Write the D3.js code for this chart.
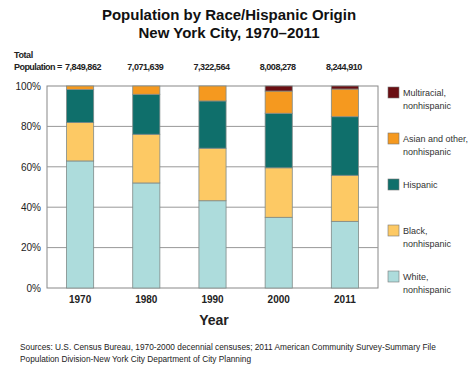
<!DOCTYPE html>
<html><head><meta charset="utf-8">
<script src="https://cdn.jsdelivr.net/npm/d3@7"></script>
<style>body{margin:0;background:#fff}svg{font-family:Arial,"Liberation Sans",sans-serif}</style>
</head><body><svg id="c" width="474" height="368"></svg>
<script>
const years = ["1970","1980","1990","2000","2011"];
const totals = ["7,849,862","7,071,639","7,322,564","8,008,278","8,244,910"];
const white = [62.9, 52.0, 43.2, 35.0, 33.0];
const black = [19.0, 24.1, 26.0, 24.5, 22.8];
const hispanic = [16.4, 19.8, 23.4, 27.0, 29.0];
const asian = [1.7, 4.1, 7.4, 11.0, 13.7];
const multiracial = [0, 0, 0, 2.5, 1.5];
const seriesNames = ["White, nonhispanic","Black, nonhispanic","Hispanic","Asian and other, nonhispanic","Multiracial, nonhispanic"];
const seriesColors = ["#addcdc","#fdc964","#0f6f6b","#f5991f","#6a0e12"];
const yTicks = [0,20,40,60,80,100];

const svg = d3.select("#c");
const m = {l:47, r:378, t:86, b:288};
const x = d3.scaleBand().domain(years).range([m.l, m.r]).paddingInner(0.59).paddingOuter(0.295);
const y = d3.scaleLinear().domain([0,100]).range([m.b, m.t]);

const rows = years.map((yr,i)=>({year:yr, s0:white[i], s1:black[i], s2:hispanic[i], s3:asian[i], s4:multiracial[i]}));
const stack = d3.stack().keys(["s0","s1","s2","s3","s4"])(rows);

// titles
svg.append("text").attr("x",229).attr("y",20).attr("text-anchor","middle").attr("font-size",15).attr("font-weight","bold").attr("fill","#111").text("Population by Race/Hispanic Origin");
svg.append("text").attr("x",229).attr("y",38).attr("text-anchor","middle").attr("font-size",15).attr("font-weight","bold").attr("fill","#111").text("New York City, 1970\u20132011");

// total population
svg.append("text").attr("x",14).attr("y",58).attr("font-size",9).attr("font-weight","bold").attr("letter-spacing",-0.4).attr("fill","#222").text("Total");
svg.append("text").attr("x",14).attr("y",70).attr("font-size",9).attr("font-weight","bold").attr("letter-spacing",-0.55).attr("fill","#222").text("Population =");
svg.selectAll(".tot").data(years).join("text").attr("class","tot")
  .attr("x",(d,i)=> i===0 ? 65 : x(d)+x.bandwidth()/2-1)
  .attr("text-anchor",(d,i)=> i===0 ? "start" : "middle")
  .attr("y",70).attr("font-size",9).attr("font-weight","bold").attr("letter-spacing",-0.45).attr("fill","#222")
  .text((d,i)=>totals[i]);

// grid
svg.append("rect").attr("x",m.l).attr("y",m.t).attr("width",m.r-m.l).attr("height",m.b-m.t).attr("fill","#fff").attr("stroke","#888").attr("stroke-width",1);
svg.selectAll(".grid").data(yTicks.slice(1,5)).join("line").attr("class","grid")
  .attr("x1",m.l).attr("x2",m.r).attr("y1",d=>y(d)).attr("y2",d=>y(d)).attr("stroke","#999").attr("stroke-width",1);

// y labels
const yAxis = svg.append("g").attr("transform",`translate(${m.l},0)`).call(d3.axisLeft(y).tickValues(yTicks).tickFormat(d=>d+"%").tickSize(0).tickPadding(6));
yAxis.select(".domain").remove();
yAxis.selectAll("text").attr("font-size",10).attr("fill","#222").attr("font-family","Arial,'Liberation Sans',sans-serif");

// bars
svg.selectAll(".ser").data(stack).join("g").attr("class","ser").attr("fill",(d,i)=>seriesColors[i])
  .selectAll("rect").data(d=>d.filter(p=>p[1]-p[0]>0)).join("rect")
  .attr("x",d=>x(d.data.year)).attr("width",x.bandwidth())
  .attr("y",d=>y(d[1])).attr("height",d=>y(d[0])-y(d[1]))
  .attr("stroke","#7f8a88").attr("stroke-width",0.8);

// x labels
const xAxis = svg.append("g").attr("transform",`translate(0,${m.b})`).call(d3.axisBottom(x).tickSize(0).tickPadding(8));
xAxis.select(".domain").remove();
xAxis.selectAll("text").attr("font-size",10).attr("font-weight","bold").attr("fill","#222").attr("font-family","Arial,'Liberation Sans',sans-serif");

svg.append("text").attr("x",214).attr("y",325).attr("text-anchor","middle").attr("font-size",14).attr("font-weight","bold").attr("fill","#222").text("Year");

// legend
const legOrder = [4,3,2,1,0];
const lg = svg.selectAll(".lg").data(legOrder).join("g").attr("class","lg")
  .attr("transform",(d,i)=>`translate(388,${87+i*46})`);
lg.append("rect").attr("width",11).attr("height",11).attr("fill",d=>seriesColors[d]).attr("stroke","#777").attr("stroke-width",0.6);
lg.each(function(d){
  const g = d3.select(this);
  const name = seriesNames[d];
  const idx = name.indexOf(", ");
  const lines = idx>=0 ? [name.slice(0,idx+1), name.slice(idx+2)] : [name];
  lines.forEach((t,j)=>g.append("text").attr("x",15).attr("y",9+j*13).attr("font-size",9).attr("fill","#333").text(t));
});

// sources
svg.append("text").attr("x",20).attr("y",350).attr("font-size",8.3).attr("fill","#222").text("Sources: U.S. Census Bureau, 1970-2000 decennial censuses; 2011 American Community Survey-Summary File");
svg.append("text").attr("x",20).attr("y",362).attr("font-size",8.3).attr("fill","#222").text("Population Division-New York City Department of City Planning");
</script></body></html>
